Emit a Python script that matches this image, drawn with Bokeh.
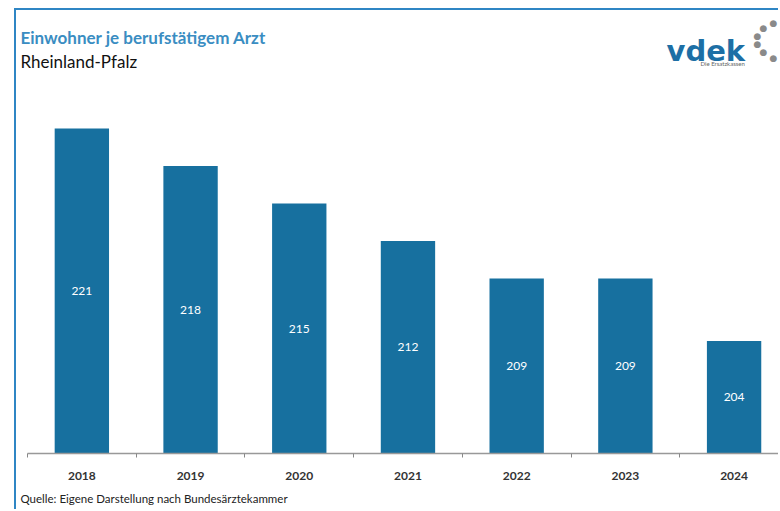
from bokeh.plotting import figure
from bokeh.models import Range1d, FixedTicker, Label, ColumnDataSource, LabelSet, Title
from bokeh.core.properties import value
from bokeh.embed import file_html
from bokeh.resources import INLINE

years = ["2018", "2019", "2020", "2021", "2022", "2023", "2024"]
values = [221, 218, 215, 212, 209, 209, 204]
title_text = "Einwohner je berufstätigem Arzt"
subtitle_text = "Rheinland-Pfalz"
source_text = "Quelle: Eigene Darstellung nach Bundesärztekammer"

BASE = 195
BAR = "#17709f"
xs = [i + 0.5 for i in range(len(years))]
mids = [(BASE + v) / 2 for v in values]
src = ColumnDataSource(dict(x=xs, top=values, mid=mids, lbl=[str(v) for v in values]))

p = figure(width=764, height=501, output_backend="svg", toolbar_location=None,
           x_range=Range1d(-0.1012, 6.927), y_range=Range1d(BASE, 230.44),
           min_border_left=0, min_border_right=0, min_border_top=0, min_border_bottom=58)
p.styles = {"margin-left": "14px", "margin-top": "8px",
            "border-left": "2px solid #2f86c4", "border-top": "2px solid #2f86c4"}
p.outline_line_color = None
p.grid.visible = False
p.yaxis.visible = False
p.background_fill_color = "white"
p.border_fill_color = "white"

p.vbar(x="x", top="top", bottom=BASE, width=0.5, source=src, fill_color=BAR, line_color=None)
p.add_layout(LabelSet(x="x", y="mid", text="lbl", source=src, text_color="white",
                      text_font=value("Lato"), text_font_size="12px", text_align="center",
                      text_baseline="middle"))

ax = p.xaxis[0]
ax.bounds = (0, 7)
ax.ticker = FixedTicker(ticks=xs, minor_ticks=list(range(len(years) + 1)))
ax.major_label_overrides = {x: y for x, y in zip(xs, years)}
ax.major_tick_line_color = None
ax.minor_tick_line_color = "#888888"
ax.minor_tick_in = 0
ax.minor_tick_out = 4
ax.axis_line_color = "#999999"
ax.axis_line_width = 1.5
ax.major_label_text_font = "Lato"
ax.major_label_text_font_style = "bold"
ax.major_label_text_font_size = "12px"
ax.major_label_text_color = "#333333"
ax.major_label_standoff = 12

p.add_layout(Title(text=source_text, align="left", offset=4, text_font="Lato",
                   text_font_style="normal", text_font_size="11.5px",
                   text_line_height=0.4, text_baseline="top",
                   text_color="#222222", standoff=14), "below")

def lab(x, y, text, **kw):
    p.add_layout(Label(x=x, y=y, x_units="screen", y_units="screen", text=text, **kw))

lab(4, 416, title_text, text_font="Lato", text_font_style="bold", text_font_size="17px",
    text_color="#3a8dc2", text_baseline="alphabetic")
lab(4, 392, subtitle_text, text_font="Lato", text_font_size="17px",
    text_color="#111111", text_baseline="alphabetic")
lab(650, 403, "vdek", text_font="DejaVu Sans", text_font_style="bold", text_font_size="29px",
    text_color="#1d6fa5", text_baseline="alphabetic")
lab(684, 390, "Die Ersatzkassen", text_font="Lato", text_font_size="6px",
    text_color="#666666", text_baseline="alphabetic")

# logo dots (decorative)
dots = [(757, 431), (747, 426), (741, 418), (741, 410), (747, 402), (757, 396)]
for dx, dy in dots:
    lab(dx, dy, "●", text_font="DejaVu Sans", text_font_size="9px", text_color="#8a8a8a",
        text_align="center", text_baseline="middle")

out = file_html(p, INLINE)
open("out.html", "w").write(out)
